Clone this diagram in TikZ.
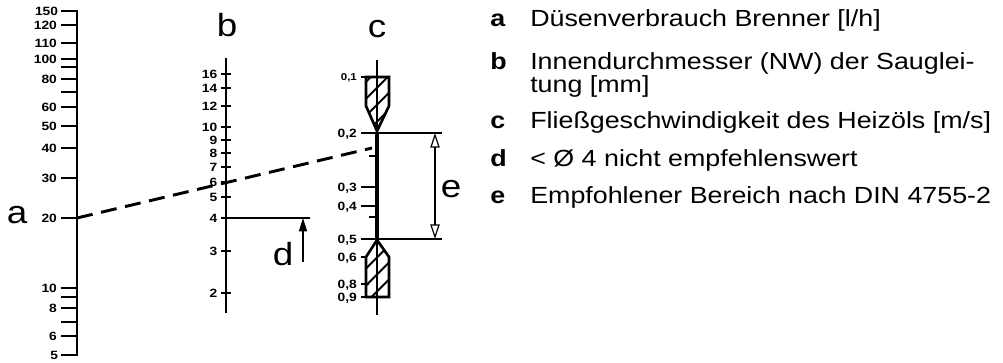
\documentclass[tikz,border=0pt]{standalone}
\usepackage{fontspec}
\setmainfont{Liberation Sans}[FakeStretch=1.15]
\usetikzlibrary{arrows.meta,patterns.meta}

\begin{document}
\begin{tikzpicture}[x=0.75pt,y=-0.75pt,
        tickline/.style={line width=2.2pt},
        numlab/.style={font=\fontsize{9}{11}\selectfont\bfseries, anchor=east, inner sep=2pt, text depth=0pt},
        smalllab/.style={font=\fontsize{7.5}{9}\selectfont\bfseries, anchor=east, inner sep=2pt, text depth=0pt},
        biglet/.style={font=\fontsize{24}{28}\selectfont, anchor=base, inner sep=0pt},
        legkey/.style={font=\fontsize{17.5}{21}\selectfont\bfseries, anchor=base west, inner sep=0pt},
        legtext/.style={font=\fontsize{17.5}{21}\selectfont, anchor=base west, inner sep=0pt},
        hatched/.style={line width=2pt, pattern={Lines[angle=45,distance=9pt,line width=1.4pt]}}]

            \useasboundingbox (0,0) rectangle (1003,363);

            % scale a
            \draw[tickline, line join=miter] (61,11) -- (77,11) -- (77,355) -- (61,355);
            \node[numlab] (a150) at (61,11) {150};
            \node[numlab] (a5) at (61,355) {5};
            \draw[tickline] (77,25) -- (61,25) node[numlab] (a120) {120};
            \draw[tickline] (77,43) -- (61,43) node[numlab] (a110) {110};
            \draw[tickline] (77,59) -- (61,59) node[numlab] (a100) {100};
            \draw[tickline] (77,67) -- (61,67);
            \draw[tickline] (77,79) -- (61,79) node[numlab] (a80) {80};
            \draw[tickline] (77,92) -- (61,92);
            \draw[tickline] (77,107) -- (61,107) node[numlab] (a60) {60};
            \draw[tickline] (77,126) -- (61,126) node[numlab] (a50) {50};
            \draw[tickline] (77,148) -- (61,148) node[numlab] (a40) {40};
            \draw[tickline] (77,178) -- (61,178) node[numlab] (a30) {30};
            \draw[tickline] (77,218) -- (61,218) node[numlab] (a20) {20};
            \draw[tickline] (77,288) -- (61,288) node[numlab] (a10) {10};
            \draw[tickline] (77,297) -- (61,297);
            \draw[tickline] (77,308) -- (61,308) node[numlab] (a8) {8};
            \draw[tickline] (77,322) -- (61,322);
            \draw[tickline] (77,336) -- (61,336) node[numlab] (a6) {6};
            \node[biglet] (la) at (17,224) {a};

            % scale b
            \draw[line width=1.6pt] (226,58) -- (226,313);
            \draw[line width=1.6pt] (231,74) -- (221,74) node[numlab] (b16) {16};
            \draw[line width=1.6pt] (231,88) -- (221,88) node[numlab] (b14) {14};
            \draw[line width=1.6pt] (231,106) -- (221,106) node[numlab] (b12) {12};
            \draw[line width=1.6pt] (231,127) -- (221,127) node[numlab] (b10) {10};
            \draw[line width=1.6pt] (231,140) -- (221,140) node[numlab] (b9) {9};
            \draw[line width=1.6pt] (231,153) -- (221,153) node[numlab] (b8) {8};
            \draw[line width=1.6pt] (231,167) -- (221,167) node[numlab] (b7) {7};
            \draw[line width=1.6pt] (231,182) -- (221,182) node[numlab] (b6) {6};
            \draw[line width=1.6pt] (231,197) -- (221,197) node[numlab] (b5) {5};
            \draw[line width=1.6pt] (226,218) -- (221,218) node[numlab] (b4) {4};
            \draw[line width=1.6pt] (231,251) -- (221,251) node[numlab] (b3) {3};
            \draw[line width=1.6pt] (231,293) -- (221,293) node[numlab] (b2) {2};
            \node[biglet] (lb) at (227,37) {b};

            % limit d
            \coordinate (d-left) at (226,218);
            \coordinate (d-right) at (310,218);
            \coordinate (d-foot) at (303,262);
            \coordinate (d-tip) at (303,218);
            \draw[line width=1pt] (d-left) -- (d-right);
            \draw[line width=1.2pt, -{Triangle[length=10pt,width=6pt]}] (d-foot) -- (d-tip);
            \node[biglet] (ld) at (283,266) {d};

            % scale c
            \draw[hatched] (366,77) -- (389,77) -- (389,106) -- (377,131) -- (366,106) -- cycle;
            \draw[hatched] (377,240) -- (389,257) -- (389,297) -- (366,297) -- (366,257) -- cycle;
            \draw[line width=0.9pt] (377,60) -- (377,315);
            \draw[line width=2.5pt] (377,133) -- (377,239);
            \draw[tickline] (366,77) -- (361,77) node[smalllab] (c01) {0,1};
            \draw[tickline] (377,133) -- (361,133) node[numlab] (c02) {0,2};
            \draw[tickline] (377,156) -- (369,156);
            \draw[tickline] (377,187) -- (361,187) node[numlab] (c03) {0,3};
            \draw[tickline] (377,206) -- (361,206) node[numlab] (c04) {0,4};
            \draw[tickline] (377,217) -- (369,217);
            \draw[tickline] (377,239) -- (361,239) node[numlab] (c05) {0,5};
            \draw[tickline] (367,257) -- (361,257) node[numlab] (c06) {0,6};
            \draw[tickline] (369,284) -- (361,284) node[numlab] (c08) {0,8};
            \draw[tickline] (366,297) -- (361,297) node[numlab] (c09) {0,9};
            \node[biglet] (lc) at (377,38) {c};

            % range e
            \coordinate (e-top) at (435,133);
            \coordinate (e-bot) at (435,239);
            \draw[line width=1.2pt] (377,133) -- (442,133);
            \draw[line width=1.2pt] (377,239) -- (442,239);
            \draw[line width=0.9pt, {Triangle[open,length=11pt,width=7pt]}-{Triangle[open,length=11pt,width=7pt]}] (e-top) -- (e-bot);
            \node[biglet] (le) at (451,198) {e};

            % reading line
            \coordinate (read-a) at (77,218);
            \coordinate (read-c) at (372,148);
            \draw[line width=2.2pt, dash pattern=on 12pt off 6.5pt] (read-a) -- (read-c);

            % legend
            \node[legkey] (ka) at (490,27) {a};
            \node[legtext] (ta) at (530,27) {Düsenverbrauch Brenner [l/h]};
            \node[legkey] (kb) at (490,70) {b};
            \node[legtext] (tb) at (530,70) {Innendurchmesser (NW) der Sauglei-};
            \node[legtext] (tb2) at (530,93) {tung [mm]};
            \node[legkey] (kc) at (490,129) {c};
            \node[legtext] (tc) at (530,129) {Fließgeschwindigkeit des Heizöls [m/s]};
            \node[legkey] (kd) at (490,167) {d};
            \node[legtext] (td) at (530,167) {< Ø 4 nicht empfehlenswert};
            \node[legkey] (ke) at (490,204) {e};
            \node[legtext] (te) at (530,204) {Empfohlener Bereich nach DIN 4755-2};
        \end{tikzpicture}
\end{document}
